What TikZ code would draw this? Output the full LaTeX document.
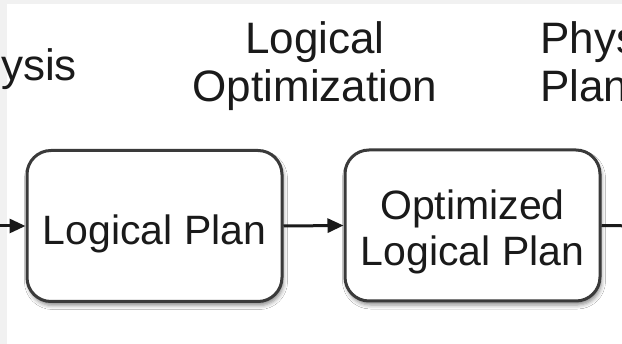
\documentclass[tikz,border=0pt]{standalone}
\usepackage{fontspec}
\setmainfont{Liberation Sans}
\usetikzlibrary{arrows.meta,shadows.blur}
\definecolor{inkdark}{HTML}{1A1A1A}
\definecolor{boxline}{HTML}{3A3A3A}
\definecolor{edgegray}{HTML}{F1F1F1}
\newcommand{\lowered}[2]{\raisebox{-#1}[\height][\depth]{#2}}
\tikzset{
  stagebox/.style={draw=boxline, line width=3pt, fill=white, rounded corners=24pt,
    minimum width=255pt, minimum height=151pt, inner sep=0pt, align=center,
    text=inkdark, font=\fontsize{41}{46}\selectfont,
    blur shadow={shadow xshift=1.5pt, shadow yshift=-4pt, shadow blur radius=4pt, shadow opacity=45}},
  phase/.style={inner sep=0pt, text=inkdark, font=\fontsize{44}{48}\selectfont},
  flow/.style={draw=inkdark, line width=3pt, -{Triangle[length=16pt,width=14pt]}},
  plainflow/.style={draw=inkdark, line width=3pt}
}
\begin{document}
\begin{tikzpicture}[x=1pt, y=-1pt]
  \useasboundingbox (0,0) rectangle (622,344);
  \clip (0,0) rectangle (622,344);
  % faint frame of the page
  \fill[edgegray] (0,0) rectangle (622,344);
  \fill[white] (7,4) rectangle (622,344);

  % phase captions
  \node[phase, anchor=base east] (analysis) at (77,81) {Analysis};
  \node[phase, align=center, anchor=base] (logopt) at (315,102) {Logical\\Optimization};
  \node[phase, align=left, anchor=base west] (physplan) at (540,102) {Physical\\Planning};

  % plan stages
  \node[stagebox] (lp) at (154.5,226) {\lowered{8pt}{Logical Plan}};
  \node[stagebox] (olp) at (472.5,225.5) {\lowered{6pt}{Optimized}\\\lowered{6pt}{Logical Plan}};

  % connectors
  \coordinate (in) at (-10,226);
  \coordinate (out) at (640,226);
  \draw[flow] (in) -- (lp.west);
  \draw[flow] (lp.east) -- (olp.west);
  \draw[plainflow] (olp.east) -- (out);
\end{tikzpicture}
\end{document}
